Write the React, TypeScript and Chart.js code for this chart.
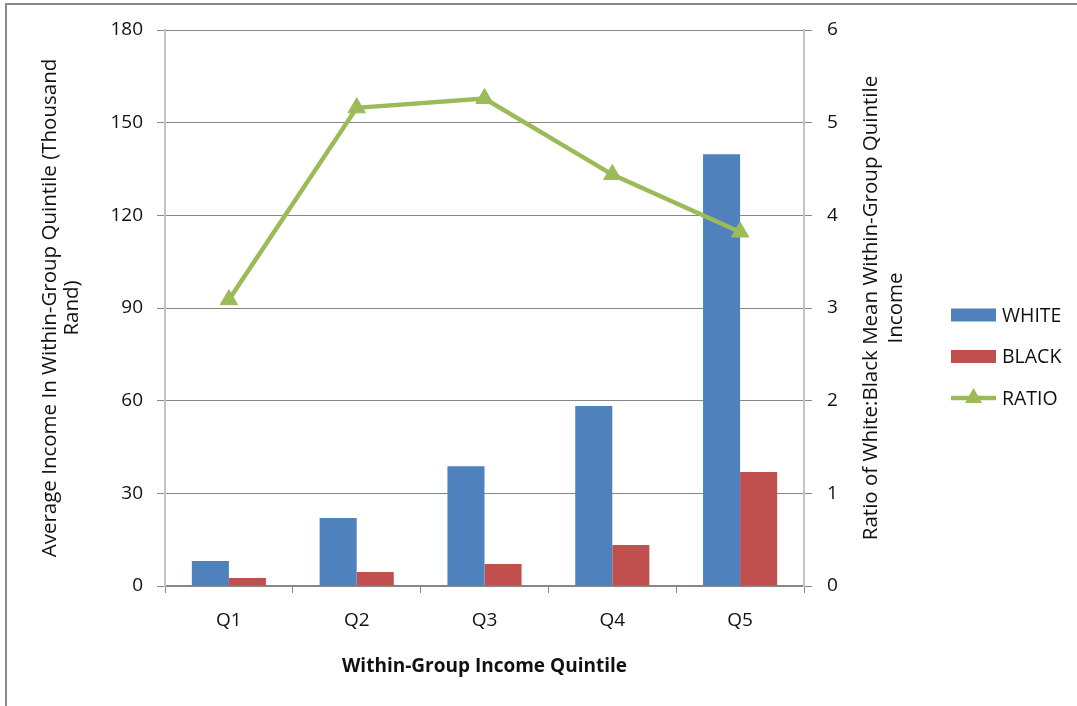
import { useEffect, useRef } from 'react';
import { Chart, registerables } from 'chart.js';

Chart.register(...registerables);

// Data
const quintiles = ['Q1', 'Q2', 'Q3', 'Q4', 'Q5'];
const whiteIncome = [8.1, 22.0, 38.8, 58.3, 139.8];
const blackIncome = [2.6, 4.5, 7.1, 13.3, 36.9];
const incomeRatio = [3.09, 5.16, 5.26, 4.44, 3.82];
const seriesNames = ['WHITE', 'BLACK', 'RATIO'];

const incomeAxisTitle = ['Average Income In Within-Group Quintile (Thousand', 'Rand)'];
const ratioAxisTitle = ['Ratio of White:Black Mean Within-Group Quintile', 'Income'];
const quintileAxisTitle = 'Within-Group Income Quintile';

// Styles
const FONT = "'Open Sans', 'Liberation Sans', sans-serif";
const TEXT = '#111111';
const GRID = '#868686';
const AXIS = '#c4c4c4';
const BLUE = '#4F81BD';
const RED = '#C0504D';
const GREEN = '#9BBB59';

function triangle(ctx: CanvasRenderingContext2D, x: number, y: number, r: number) {
  ctx.beginPath();
  for (let k = 0; k < 3; k++) {
    const a = (k * 2 * Math.PI) / 3;
    const px = x + Math.sin(a) * r;
    const py = y - Math.cos(a) * r;
    if (k === 0) ctx.moveTo(px, py);
    else ctx.lineTo(px, py);
  }
  ctx.closePath();
  ctx.fill();
}

// White page with the grey frame along the top and left edges
const framePlugin = {
  id: 'frame',
  beforeDraw(chart: any) {
    const { ctx, width, height } = chart;
    ctx.save();
    ctx.fillStyle = '#ffffff';
    ctx.fillRect(0, 0, width, height);
    ctx.strokeStyle = '#8a8a8a';
    ctx.lineWidth = 2;
    ctx.beginPath();
    ctx.moveTo(6, height);
    ctx.lineTo(6, 4);
    ctx.lineTo(width, 4);
    ctx.stroke();
    ctx.restore();
  },
};

// Right-hand axis title, reading bottom to top
const ratioTitlePlugin = {
  id: 'ratioTitle',
  afterDraw(chart: any) {
    const { ctx, chartArea } = chart;
    const scale = chart.scales.y1;
    const cy = (chartArea.top + chartArea.bottom) / 2;
    ctx.save();
    ctx.translate(scale.left + 67, cy);
    ctx.rotate(-Math.PI / 2);
    ctx.font = `20.5px ${FONT}`;
    ctx.fillStyle = TEXT;
    ctx.textAlign = 'center';
    ctx.textBaseline = 'middle';
    ratioAxisTitle.forEach((line, i) => ctx.fillText(line, 0, i * 25));
    ctx.restore();
  },
};

// Legend to the right of the plot
const sideLegendPlugin = {
  id: 'sideLegend',
  afterDraw(chart: any) {
    const { ctx } = chart;
    const x0 = 951;
    const boxW = 45;
    const textX = 1002;
    const firstY = 315;
    const rowGap = 41.5;
    ctx.save();
    ctx.font = `19.5px ${FONT}`;
    ctx.textAlign = 'left';
    ctx.textBaseline = 'middle';
    chart.data.datasets.forEach((ds: any, i: number) => {
      const y = firstY + i * rowGap;
      if (ds.type === 'line') {
        ctx.strokeStyle = ds.borderColor;
        ctx.lineWidth = 4.5;
        ctx.beginPath();
        ctx.moveTo(x0, y);
        ctx.lineTo(x0 + boxW, y);
        ctx.stroke();
        ctx.fillStyle = ds.borderColor;
        triangle(ctx, x0 + boxW / 2, y, 10);
      } else {
        ctx.fillStyle = ds.backgroundColor;
        ctx.fillRect(x0, y - 6.5, boxW, 13);
      }
      ctx.fillStyle = TEXT;
      ctx.fillText(ds.label, textX, y + 1);
    });
    ctx.restore();
  },
};

export default function App() {
  const canvasRef = useRef<HTMLCanvasElement>(null);

  useEffect(() => {
    const canvas = canvasRef.current;
    if (!canvas) return;
    Chart.defaults.font.family = FONT;
    Chart.defaults.color = TEXT;

    const chart = new Chart(canvas, {
      type: 'bar',
      data: {
        labels: quintiles,
        datasets: [
          {
            type: 'bar',
            label: seriesNames[0],
            data: whiteIncome,
            backgroundColor: BLUE,
            yAxisID: 'y',
            order: 1,
            categoryPercentage: 0.58,
            barPercentage: 1,
          },
          {
            type: 'bar',
            label: seriesNames[1],
            data: blackIncome,
            backgroundColor: RED,
            yAxisID: 'y',
            order: 1,
            categoryPercentage: 0.58,
            barPercentage: 1,
          },
          {
            type: 'line',
            label: seriesNames[2],
            data: incomeRatio,
            borderColor: GREEN,
            backgroundColor: GREEN,
            borderWidth: 4.5,
            pointStyle: 'triangle',
            pointRadius: 10,
            pointBorderWidth: 1,
            pointBackgroundColor: GREEN,
            pointBorderColor: GREEN,
            tension: 0,
            yAxisID: 'y1',
            order: 0,
          },
        ] as any,
      },
      options: {
        animation: false,
        responsive: false,
        devicePixelRatio: 1,
        layout: { padding: { left: 0, right: 163, top: 30, bottom: 28 } },
        plugins: {
          legend: { display: false },
          tooltip: { enabled: false },
        },
        scales: {
          x: {
            afterFit: (scale: any) => {
              scale.height = 92;
            },
            grid: {
              drawOnChartArea: false,
              offset: true,
              tickLength: 7,
              color: GRID,
            },
            border: { color: GRID, width: 2 },
            ticks: { font: { size: 19 }, padding: 16, color: TEXT },
            title: {
              display: true,
              text: quintileAxisTitle,
              font: { size: 19, weight: 'bold' },
              color: TEXT,
              padding: { top: 0, bottom: 0 },
            },
          },
          y: {
            position: 'left',
            min: 0,
            max: 180,
            afterFit: (scale: any) => {
              scale.width = 165;
            },
            ticks: { stepSize: 30, font: { size: 19 }, padding: 14, color: TEXT },
            grid: { color: GRID, tickColor: GRID, tickLength: 8, lineWidth: 1 },
            border: { color: AXIS, width: 2 },
            title: {
              display: true,
              text: incomeAxisTitle,
              font: { size: 20.5, lineHeight: 1.1 },
              color: TEXT,
              padding: { top: 38.7, bottom: 0 },
            },
          },
          y1: {
            position: 'right',
            min: 0,
            max: 6,
            afterFit: (scale: any) => {
              scale.width = 110;
            },
            ticks: { stepSize: 1, font: { size: 19 }, padding: 15, color: TEXT },
            grid: { drawOnChartArea: false, color: GRID, tickColor: GRID, tickLength: 8 },
            border: { color: AXIS, width: 2 },
          },
        },
      } as any,
      plugins: [framePlugin, ratioTitlePlugin, sideLegendPlugin],
    });

    return () => chart.destroy();
  }, []);

  return (
    <div style={{ position: 'fixed', left: 0, top: 0, width: 1077, height: 706 }}>
      <canvas ref={canvasRef} width={1077} height={706} style={{ display: 'block' }} />
    </div>
  );
}
